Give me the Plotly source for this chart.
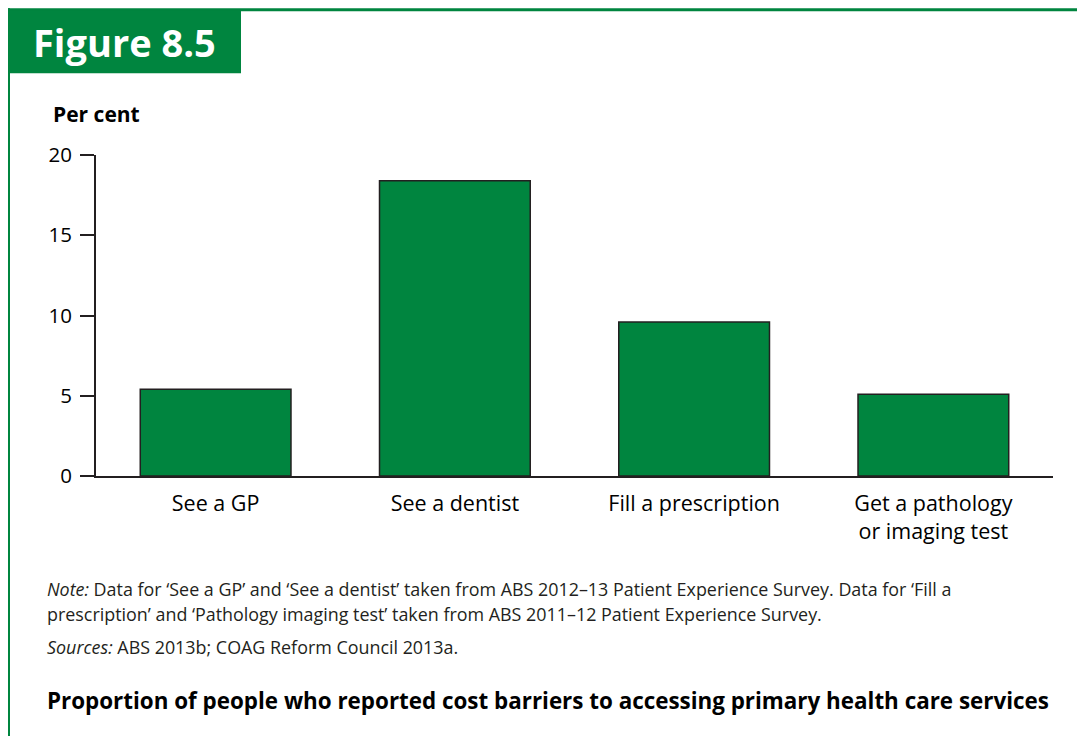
import plotly.graph_objects as go

categories = ["See a GP", "See a dentist", "Fill a prescription", "Get a pathology<br>or imaging test"]
values = [5.4, 18.4, 9.6, 5.1]
y_ticks = [0, 5, 10, 15, 20]

GREEN = "#00853F"
DARK = "#231F20"
FONT = "Open Sans"

OFF = 8  # page body margin
W, H = 1085 - OFF, 736 - OFF
L, T = 96 - OFF, 155 - OFF
R = W - (1053 - OFF)
B = H - (476.5 - OFF)
PW, PH = W - L - R, H - T - B


def px(x):
    # page pixel -> paper x
    return (x - OFF - L) / PW


def py(y):
    # page pixel -> paper y
    return (H - B - (y - OFF)) / PH


fig = go.Figure(go.Bar(
    x=categories, y=values,
    marker=dict(color=GREEN, line=dict(color=DARK, width=1.5)),
    width=0.63,
))

fig.update_layout(
    width=W, height=H,
    margin=dict(l=L, r=R, t=T, b=B),
    paper_bgcolor="white", plot_bgcolor="white",
    showlegend=False,
    font=dict(family=FONT, color="black"),
    xaxis=dict(
        range=[-0.5, 3.5], showline=True, linecolor=DARK, linewidth=2,
        ticks="", showgrid=False, zeroline=False,
        tickfont=dict(size=21.5, color="black"), ticklabelstandoff=7,
    ),
    yaxis=dict(
        range=[0, 20], tickvals=y_ticks, showline=True, linecolor=DARK, linewidth=2,
        ticks="outside", ticklen=14, tickwidth=1.5, tickcolor=DARK,
        showgrid=False, zeroline=False,
        tickfont=dict(size=20.5, color="black"), ticklabelstandoff=4,
    ),
    shapes=[
        dict(type="line", xref="paper", yref="paper", x0=px(7), x1=px(1090), y0=py(9.5), y1=py(9.5),
             line=dict(color=GREEN, width=3)),
        dict(type="line", xref="paper", yref="paper", x0=px(9), x1=px(9), y0=py(8), y1=py(745),
             line=dict(color=GREEN, width=2)),
        dict(type="rect", xref="paper", yref="paper", x0=px(7), x1=px(241), y0=py(10), y1=py(73),
             fillcolor=GREEN, line=dict(width=0)),
    ],
    annotations=[
        dict(text="<b>Figure 8.5</b>", xref="paper", yref="paper", x=px(31), y=py(42),
             xanchor="left", yanchor="middle", showarrow=False,
             font=dict(size=38, color="white", family=FONT)),
        dict(text="<b>Per cent</b>", xref="paper", yref="paper", x=px(51), y=py(114),
             xanchor="left", yanchor="middle", showarrow=False,
             font=dict(size=21, color="black", family=FONT)),
        dict(text="<i>Note:</i> Data for \u2018See a GP\u2019 and \u2018See a dentist\u2019 taken from ABS 2012\u201313 Patient Experience Survey. Data for \u2018Fill a",
             xref="paper", yref="paper", x=px(45), y=py(590), xanchor="left", yanchor="middle",
             showarrow=False, font=dict(size=17.9, color=DARK, family=FONT)),
        dict(text="prescription\u2019 and \u2018Pathology imaging test\u2019 taken from ABS 2011\u201312 Patient Experience Survey.",
             xref="paper", yref="paper", x=px(45), y=py(615), xanchor="left", yanchor="middle",
             showarrow=False, font=dict(size=17.9, color=DARK, family=FONT)),
        dict(text="<i>Sources:</i> ABS 2013b; COAG Reform Council 2013a.",
             xref="paper", yref="paper", x=px(45), y=py(648), xanchor="left", yanchor="middle",
             showarrow=False, font=dict(size=17.9, color=DARK, family=FONT)),
        dict(text="<b>Proportion of people who reported cost barriers to accessing primary health care services</b>",
             xref="paper", yref="paper", x=px(45), y=py(701), xanchor="left", yanchor="middle",
             showarrow=False, font=dict(size=22.4, color="black", family=FONT)),
    ],
)

fig.write_html("out.html")
